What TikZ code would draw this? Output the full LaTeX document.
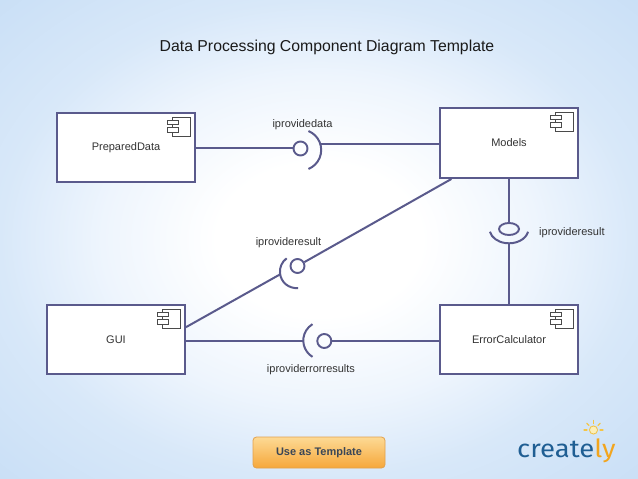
\documentclass[tikz,border=0pt]{standalone}
\usepackage{fontspec}
\setmainfont{Liberation Sans}
\newfontfamily\logofont{Fira Sans}
\usetikzlibrary{calc,shapes.geometric}
\definecolor{umlline}{HTML}{5A5A8C}
\definecolor{txt}{HTML}{333333}
\definecolor{titlecol}{HTML}{1A1A1A}
\definecolor{icongray}{HTML}{4A4A4A}
\definecolor{bgA}{HTML}{EEF5FD}
\definecolor{bgB}{HTML}{D8E8F9}
\definecolor{bgC}{HTML}{C9DFF6}
\definecolor{btnTop}{HTML}{FDDA95}
\definecolor{btnBot}{HTML}{F6A73A}
\definecolor{btnEdge}{HTML}{E2A14C}
\definecolor{btnText}{HTML}{3A4656}
\definecolor{createblue}{HTML}{1F5E93}
\definecolor{createorange}{HTML}{F2A51E}
\definecolor{bulbray}{HTML}{F5C545}
\definecolor{bulbfill}{HTML}{FCEFB8}
\pgfdeclareradialshading{bgshade}{\pgfpoint{0bp}{0bp}}{color(0bp)=(white); color(8bp)=(white); color(17bp)=(bgA); color(25bp)=(bgB); color(36bp)=(bgC); color(50bp)=(bgC)}
\newcommand\compicon[1]{%
  \draw[icon] ([shift={(-24,5)}]#1.north east) rectangle ([shift={(-6,24)}]#1.north east);
  \draw[icon] ([shift={(-29,8)}]#1.north east) rectangle ([shift={(-18,12.5)}]#1.north east);
  \draw[icon] ([shift={(-29,15.5)}]#1.north east) rectangle ([shift={(-18,20)}]#1.north east);
}
\tikzset{
  comp/.style={draw=umlline, line width=2pt, fill=white, minimum width=138pt,
    minimum height=69pt, inner sep=0pt, font=\fontsize{11}{13}\selectfont, text=txt},
  conn/.style={draw=umlline, line width=2pt},
  ball/.style={circle, draw=umlline, line width=1.9pt, minimum size=14pt, inner sep=0pt},
  flatball/.style={ellipse, draw=umlline, line width=1.9pt, minimum width=20pt,
    minimum height=12pt, inner sep=0pt},
  lbl/.style={font=\fontsize{11}{13}\selectfont, text=txt, inner sep=0pt},
  icon/.style={draw=icongray, line width=0.8pt, fill=white},
}
\begin{document}
\begin{tikzpicture}[x=1pt, y=1pt, yscale=-1]
  % background
  \shade[shading=bgshade] (0,0) rectangle (638,479);
  \useasboundingbox (0,0) rectangle (638,479);

  % title
  \node[anchor=base, inner sep=0pt, text=titlecol, font=\fontsize{15.8}{18}\selectfont] (title) at (327,51) {Data Processing Component Diagram Template};

  % components
  \node[comp] (prep) at (126,147.5) {PreparedData};
  \node[comp, minimum height=70pt] (models) at (509,143) {Models};
  \node[comp] (gui) at (116,339.5) {GUI};
  \node[comp] (ec) at (509,339.5) {ErrorCalculator};
  \compicon{prep}
  \compicon{models}
  \compicon{gui}
  \compicon{ec}

  % connector 1: PreparedData -- Models (iprovidedata)
  \node[ball] (b1) at (300.5,148.5) {};
  \coordinate (c1) at (300.7,150);
  \coordinate (s1) at (320,144);
  \draw[conn] (prep.east |- 0,148) -- (b1.west |- 0,148);
  \draw[conn] (c1) ++(-67.7:20.5) arc[start angle=-67.7, end angle=67.7, radius=20.5];
  \draw[conn] (s1) -- (s1 -| models.west);
  \node[lbl] (l1) at (302.5,125) {iprovidedata};

  % connector 2: Models -- ErrorCalculator (iprovideresult)
  \node[flatball] (b2) at (509,229) {};
  \coordinate (c2) at (509,229);
  \coordinate (s2) at (509,243.3);
  \draw[conn] (models.south) -- (b2);
  \draw[conn] (c2) ++(11:19.4 and 14.3) arc[start angle=11, end angle=169, x radius=19.4, y radius=14.3];
  \draw[conn] (s2) -- (ec.north);
  \node[lbl, anchor=west] (l2) at (539,233) {iprovideresult};

  % connector 3: GUI -- Models (iprovideresult)
  \node[ball] (b3) at (297.5,266) {};
  \coordinate (c3) at (296.4,271.6);
  \coordinate (s3) at (280.2,274.3);
  \draw[conn] (gui.10) -- (s3);
  \draw[conn] (c3) ++(84.4:16.5) arc[start angle=84.4, end angle=233.9, radius=16.5];
  \draw[conn] (b3) -- (models.212);
  \node[lbl] (l3) at (288.5,243) {iprovideresult};

  % connector 4: GUI -- ErrorCalculator (iproviderrorresults)
  \node[ball] (b4) at (324.3,341) {};
  \coordinate (c4) at (322.4,340.5);
  \coordinate (s4) at (303.3,341);
  \draw[conn] (gui.east |- s4) -- (s4);
  \draw[conn] (c4) ++(121.2:19.1) arc[start angle=121.2, end angle=238.8, radius=19.1];
  \draw[conn] (b4) -- (b4 -| ec.west);
  \node[lbl] (l4) at (311,370) {iproviderrorresults};

  % button
  \node[draw=btnEdge, line width=0.8pt, rounded corners=3.5pt, top color=btnTop, bottom color=btnBot,
        minimum width=132pt, minimum height=31pt, inner sep=0pt, text=btnText,
        font=\bfseries\fontsize{11}{13}\selectfont] (btn) at (319,452.5) {Use as Template};

  % creately logo
  \node[anchor=base west, inner sep=0pt] (logo) at (517,457)
    {\scalebox{1.1}[1]{\logofont\fontsize{25}{25}\selectfont\textcolor{createblue}{create}\textcolor{createorange}{ly}}};
  \coordinate (bulbc) at (593.5,430);
  \draw[bulbray, line width=1pt] (bulbc) circle[radius=4];
  \fill[bulbfill] (bulbc) circle[radius=3.3];
  \foreach \a in {-90,-135,-45,180,0}
    \draw[bulbray, line width=1.1pt, line cap=round] (bulbc) ++(\a:6.5) -- ++(\a:3);
\end{tikzpicture}
\end{document}
